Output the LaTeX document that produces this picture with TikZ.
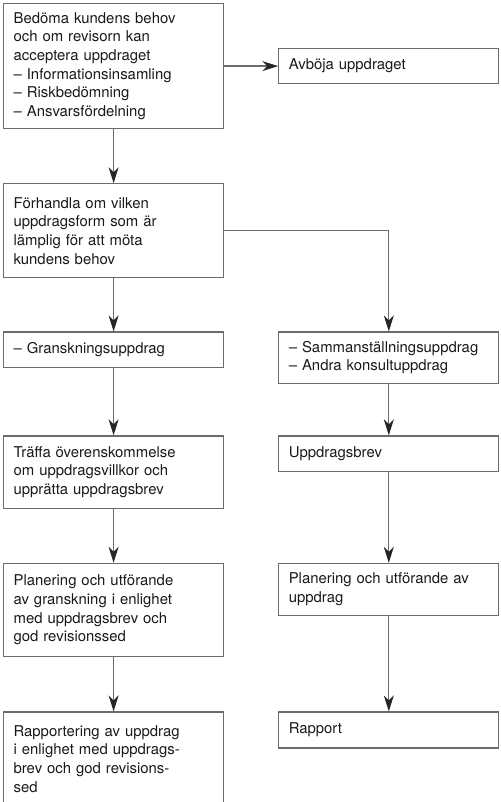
\documentclass[tikz,border=0pt]{standalone}
\usepackage{fontspec}
\setmainfont{TeX Gyre Heros}
\usepackage{tikz}
\usetikzlibrary{positioning,arrows.meta}
\tikzset{every picture/.style={line width=1.2pt}}
\tikzset{
  stepbox/.style={draw=black!58, rectangle, text width=200pt, inner xsep=10pt, inner ysep=2pt,
    align=left, text=black!90, font=\fontsize{14.9}{18.7}\selectfont},
  flow/.style={draw=black!58, -{Stealth[length=16pt,width=10pt,inset=5pt,color=black!85]}}
}

\begin{document}
\begin{tikzpicture}[x=1pt, y=1pt, node distance=54pt]
\useasboundingbox (0,0) rectangle (500,-802);
    % Left column
\node[stepbox, anchor=north west, minimum height=125pt] (assess) at (3,-3) {Bedöma kundens behov\\och om revisorn kan\\acceptera uppdraget\\– Informationsinsamling\\– Riskbedömning\\– Ansvarsfördelning};
\node[stepbox, minimum height=35.6pt, right=of assess] (decline) {Avböja uppdraget};
\node[stepbox, minimum height=94pt, below=of assess] (negotiate) {Förhandla om vilken\\uppdragsform som är\\lämplig för att möta\\kundens behov};
\node[stepbox, minimum height=35.7pt, below=53pt of negotiate] (review) {– Granskningsuppdrag};
\node[stepbox, minimum height=72.3pt, below=67pt of review] (agree) {Träffa överenskommelse\\om uppdragsvillkor och\\upprätta uppdragsbrev};
\node[stepbox, minimum height=93.4pt, below=of agree] (planL) {Planering och utförande\\av granskning i enlighet\\med uppdragsbrev och\\god revisionssed};
\node[stepbox, minimum height=93.6pt, below=of planL] (reportL) {Rapportering av uppdrag\\i enlighet med uppdrags-\\brev och god revisions-\\sed};
    % Right column
\node[stepbox, minimum height=51.4pt, right=of review.north east, anchor=north west] (compile) {– Sammanställningsuppdrag\\– Andra konsultuppdrag};
\node[stepbox, minimum height=35.7pt, right=of agree.north east, anchor=north west] (letter) {Uppdragsbrev};
\node[stepbox, minimum height=52pt, right=of planL.north east, anchor=north west] (planR) {Planering och utförande av\\uppdrag};
\node[stepbox, minimum height=36pt, right=of reportL.north east, anchor=north west] (report) {Rapport};
    % Connections
    \draw[flow] (assess) -- (decline);
    \draw[flow] (assess) -- (negotiate);
    \draw[flow] (negotiate) -- (review);
    \draw[flow] (negotiate.east) -| (compile);
    \draw[flow] (review) -- (agree);
    \draw[flow] (agree) -- (planL);
    \draw[flow] (planL) -- (reportL);
    \draw[flow] (compile) -- (letter);
    \draw[flow] (letter) -- (planR);
    \draw[flow] (planR) -- (report);
\end{tikzpicture}
\end{document}
